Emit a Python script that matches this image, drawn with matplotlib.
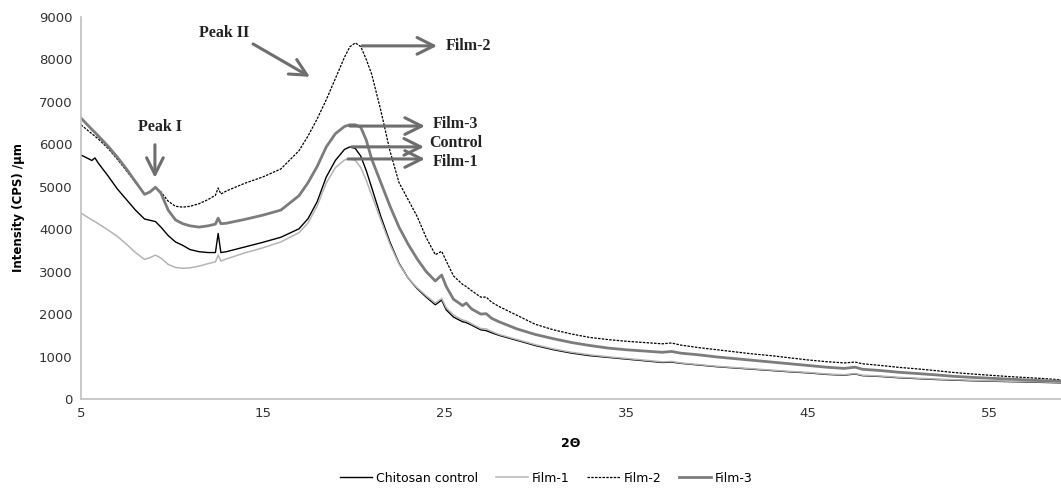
import matplotlib
matplotlib.use("Agg")
import matplotlib.pyplot as plt

# 2-theta sample positions (shared by all series)
two_theta = [5, 5.6, 5.77, 5.95, 6.5, 7, 7.5, 8, 8.5, 8.8, 9.1, 9.4, 9.8, 10.2, 10.6, 11, 11.5, 12,
             12.4, 12.55, 12.7, 13, 14, 15, 16, 17, 17.5, 18, 18.5, 19, 19.5, 19.8, 20.1, 20.4, 20.7,
             21, 21.5, 22, 22.5, 23, 23.5, 24, 24.5, 24.85, 25.1, 25.5, 26, 26.2, 26.5, 27, 27.3, 27.6,
             28, 29, 30, 31, 32, 33, 34, 35, 36, 37, 37.5, 38, 39, 40, 41, 42, 43, 44, 45, 46, 47,
             47.6, 48, 49, 50, 51, 52, 53, 54, 55, 56, 57, 58, 59]

control = [5750, 5620, 5680, 5560, 5250, 4950, 4700, 4450, 4240, 4210, 4180, 4050, 3850, 3700, 3620,
           3520, 3470, 3450, 3450, 3900, 3450, 3470, 3580, 3690, 3810, 4010, 4250, 4650, 5230, 5620,
           5880, 5940, 5900, 5720, 5380, 4980, 4300, 3700, 3200, 2850, 2600, 2400, 2220, 2330, 2100,
           1930, 1820, 1800, 1740, 1630, 1610, 1560, 1500, 1380, 1260, 1160, 1080, 1020, 980, 940,
           900, 860, 870, 840, 800, 760, 730, 700, 670, 640, 615, 580, 560, 590, 550, 530, 500, 480,
           460, 445, 430, 420, 410, 400, 390, 380]

film1 = [4380, 4220, 4180, 4130, 3980, 3830, 3650, 3450, 3290, 3330, 3390, 3320, 3170, 3100, 3080,
         3090, 3130, 3190, 3230, 3390, 3250, 3300, 3440, 3560, 3700, 3920, 4150, 4550, 5090, 5450,
         5630, 5660, 5620, 5450, 5150, 4800, 4220, 3650, 3180, 2850, 2620, 2430, 2260, 2370, 2150,
         1980, 1860, 1840, 1770, 1660, 1650, 1590, 1520, 1400, 1280, 1180, 1100, 1040, 995, 955,
         915, 875, 885, 850, 810, 770, 740, 710, 680, 650, 625, 590, 570, 600, 560, 540, 510, 490,
         470, 455, 440, 430, 420, 410, 400, 390]

film2 = [6460, 6250, 6190, 6130, 5900, 5650, 5380, 5100, 4830, 4870, 4970, 4880, 4660, 4540, 4520,
         4540, 4600, 4700, 4800, 4970, 4830, 4900, 5080, 5230, 5420, 5850, 6200, 6600, 7050, 7550,
         8050, 8300, 8390, 8300, 8000, 7650, 6800, 5850, 5100, 4700, 4300, 3800, 3400, 3480, 3250,
         2900, 2700, 2650, 2550, 2400, 2400, 2280, 2180, 1970, 1760, 1630, 1530, 1450, 1400, 1360,
         1330, 1300, 1320, 1270, 1210, 1160, 1110, 1060, 1020, 970, 920, 880, 850, 870, 830, 790,
         745, 710, 670, 625, 590, 560, 530, 505, 480, 450]

film3 = [6620, 6350, 6280, 6200, 5950, 5700, 5420, 5120, 4820, 4880, 4990, 4850, 4450, 4220, 4130,
         4080, 4050, 4080, 4120, 4260, 4130, 4140, 4230, 4330, 4450, 4790, 5100, 5480, 5940, 6250,
         6420, 6460, 6460, 6400, 6100, 5650, 5100, 4550, 4050, 3650, 3300, 3000, 2780, 2920, 2650,
         2350, 2200, 2260, 2120, 2000, 2010, 1900, 1820, 1650, 1520, 1420, 1330, 1260, 1200, 1160,
         1130, 1100, 1120, 1080, 1040, 990, 950, 910, 870, 830, 790, 750, 720, 750, 700, 670, 630,
         600, 570, 535, 510, 490, 470, 450, 430, 420]

series_labels = ["Chitosan control", "Film-1", "Film-2", "Film-3"]
x_ticks = [5, 15, 25, 35, 45, 55]
y_ticks = [0, 1000, 2000, 3000, 4000, 5000, 6000, 7000, 8000, 9000]

fig = plt.figure(figsize=(10.61, 4.91), dpi=100)
ax = fig.add_axes([0.0763, 0.1874, 0.9237, 0.778])

ax.plot(two_theta, control, color="black", lw=1.0, label=series_labels[0])
ax.plot(two_theta, film1, color="#b4b4b4", lw=1.1, label=series_labels[1])
ax.plot(two_theta, film2, color="black", lw=0.9, ls=(0, (2, 1)), label=series_labels[2])
ax.plot(two_theta, film3, color="#7c7c7c", lw=2.0, label=series_labels[3])

ax.set_xlim(5, 58.93)
ax.set_ylim(0, 9000)
ax.set_xticks(x_ticks)
ax.set_yticks(y_ticks)
ax.tick_params(length=0, labelsize=9.5, colors="#333333", pad=6)
for s in ["top", "right"]:
    ax.spines[s].set_visible(False)
for s in ["left", "bottom"]:
    ax.spines[s].set_color("#c0c0c0")
    ax.spines[s].set_linewidth(1.2)

ax.set_xlabel("2Θ", fontsize=9, fontweight="bold", labelpad=12)
ax.set_ylabel("Intensity (CPS) /µm", fontsize=8.5, fontweight="bold", labelpad=10)

# annotations
arrow_col = "#6e6e6e"
ann_font = dict(family="Liberation Serif", fontsize=11.5, fontweight="bold", color="#222222")
aprops = dict(arrowstyle="->,head_length=0.6,head_width=0.3", color=arrow_col, lw=2.2,
              mutation_scale=20, shrinkA=0, shrinkB=0)

ax.text(9.35, 6410, "Peak I", ha="center", va="center", **ann_font)
ax.annotate("", xy=(9.07, 5210), xytext=(9.07, 5990), arrowprops=aprops)
ax.text(12.87, 8620, "Peak II", ha="center", va="center", **ann_font)
ax.annotate("", xy=(17.6, 7590), xytext=(14.47, 8365), arrowprops=aprops)

ax.annotate("", xy=(24.6, 8320), xytext=(20.47, 8320), arrowprops=aprops)
ax.text(25.05, 8320, "Film-2", ha="left", va="center", **ann_font)
ax.annotate("", xy=(23.93, 6430), xytext=(19.8, 6430), arrowprops=aprops)
ax.text(24.37, 6480, "Film-3", ha="left", va="center", **ann_font)
ax.annotate("", xy=(23.88, 5940), xytext=(19.9, 5940), arrowprops=aprops)
ax.text(24.15, 6030, "Control", ha="left", va="center", **ann_font)
ax.annotate("", xy=(23.93, 5655), xytext=(19.7, 5655), arrowprops=aprops)
ax.text(24.37, 5580, "Film-1", ha="left", va="center", **ann_font)

fig.legend(loc="center", bbox_to_anchor=(0.515, 0.026), ncol=4, frameon=False,
           fontsize=9, handlelength=2.6, columnspacing=1.4, handletextpad=0.3)

fig.savefig("out.png", dpi=100)
